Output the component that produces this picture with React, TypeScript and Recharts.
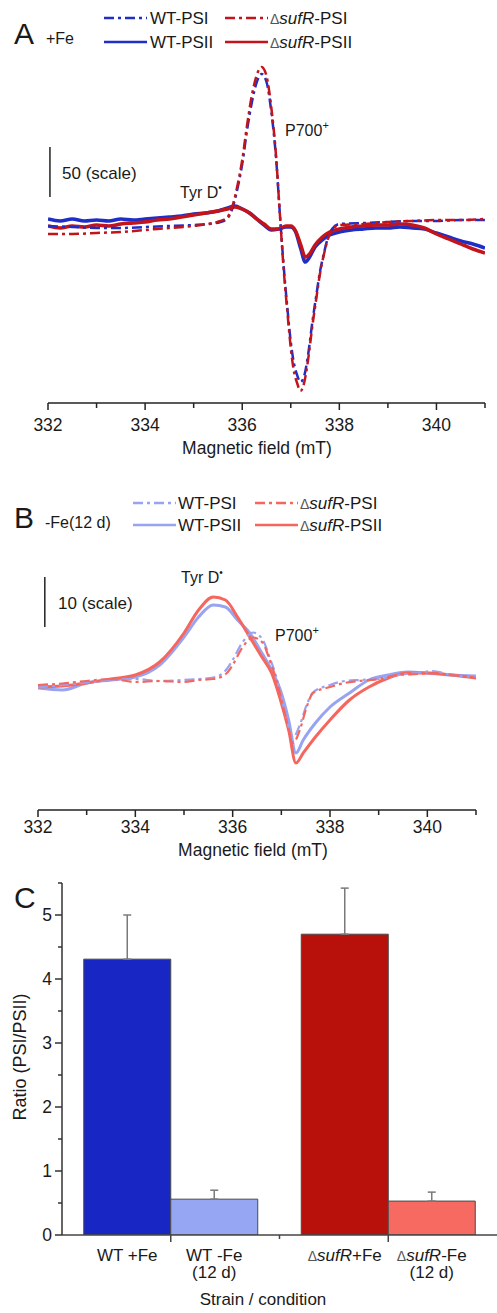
import React from 'react';
import { LineChart, Line, XAxis, YAxis, ReferenceLine, BarChart, Bar, ErrorBar, Cell } from 'recharts';

const FONT = '"Liberation Sans", Arial, Helvetica, sans-serif';
const INK = '#1a1a1a';

// ---------- Panel A (+Fe) : EPR signal, 1 unit per scale step ----------
const A_PSI_FIELD = [332, 332.5, 333, 333.5, 334, 334.5, 335, 335.3, 335.55, 335.7,
  335.8, 335.9, 336.0, 336.1, 336.2, 336.3, 336.4, 336.5, 336.6, 336.7,
  336.77, 336.85, 336.93, 337.0, 337.06, 337.13, 337.2, 337.27, 337.35, 337.45,
  337.53, 337.6, 337.68, 337.75, 337.85, 338.0, 338.5, 339, 339.5, 340,
  340.5, 341];
const A_WT_PSI = [-4, -5, -6, -6, -5, -4, -3, -2, 0, 4,
  14, 33, 58, 92, 120, 140, 148, 140, 110, 62,
  12, -42, -86, -120, -140, -153, -160, -155, -135, -98,
  -72, -50, -32, -18, -7, -2, -1, 0, 1, 1,
  2, 2];
const A_SUFR_PSI = [-12, -12, -11, -10, -8, -6, -4, -2, 1, 5,
  16, 36, 62, 97, 127, 147, 155, 146, 114, 64,
  12, -45, -90, -126, -148, -161, -169, -162, -140, -102,
  -75, -52, -33, -19, -8, -3, -2, 0, 1, 2,
  2, 3];
const A_PSII_FIELD = [332, 332.25, 332.5, 332.75, 333, 333.25, 333.5, 333.75, 334, 334.25, 334.5, 334.75,
  335, 335.25, 335.5, 335.7, 335.85, 336.0, 336.15, 336.3, 336.45, 336.6,
  336.75, 336.9, 337.0, 337.1, 337.2, 337.3, 337.4, 337.5, 337.65, 337.8,
  338.0, 338.25, 338.5, 338.75, 339.0, 339.25, 339.5, 339.75, 340.0, 340.25,
  340.5, 340.75, 341];
const A_WT_PSII = [3, 1, 3, 1, 2, 1, 3, 2, 3, 4, 5, 6,
  8, 9, 11, 14, 16, 13, 9, 3, -3, -8,
  -7, -5, -5, -10, -26, -40, -34, -25, -18, -13,
  -10, -8, -7, -6, -6, -5, -6, -7, -11, -15,
  -19, -22, -26];
const A_SUFR_PSII = [-4, -6, -4, -5, -3, -4, -2, -1, 0, 2, 3, 5,
  7, 9, 11, 13, 15, 13, 9, 3, -2, -7,
  -7, -4, -4, -9, -22, -35, -31, -23, -15, -10,
  -7, -5, -4, -3, -3, -2, -3, -6, -12, -17,
  -22, -27, -31];

// ---------- Panel B (-Fe, 12 d) ----------
const B_PSI_FIELD = [332, 332.5, 333, 333.5, 334, 334.5, 335, 335.3, 335.6, 335.88,
  336.0, 336.2, 336.42, 336.62, 336.76, 336.9, 337.04, 337.17, 337.24, 337.38,
  337.52, 337.65, 338.0, 338.3, 338.6, 339.0, 339.4, 339.8, 340.1, 340.5,
  341];
const B_WT_PSI = [-0.5, 0, 0.5, 1, 1.2, 0.8, 1, 1.2, 1.5, 3.2,
  5, 8.5, 10.5, 9, 5.5, 1.5, -4, -9, -10.5, -8,
  -4, -1.5, 0, 0.8, 1, 1.2, 2, 2.4, 2.8, 2,
  1.6];
const B_SUFR_PSI = [0, 0.3, 0.8, 1.2, 0.6, 0.8, 0.6, 1, 1.2, 2.4,
  4, 7.5, 9.5, 8.4, 5, 1, -4.4, -9.6, -11.6, -9,
  -4.4, -1.6, -0.4, 0.4, 0.8, 1.2, 2, 2.2, 2.4, 2,
  1.4];
const B_PSII_FIELD = [332, 332.5, 333, 333.5, 334, 334.5, 335, 335.3, 335.6, 335.85,
  336.1, 336.35, 336.6, 336.8, 337.0, 337.15, 337.3, 337.45, 337.7, 338.0,
  338.4, 338.8, 339.2, 339.6, 340.0, 340.5, 341];
const B_WT_PSII = [-0.6, -1, 0.4, 1, 1.6, 4, 9.6, 13.6, 16, 15.6,
  13, 10.4, 6.4, 3, -1.6, -7, -13.6, -11, -7.6, -4.4,
  -1.6, 1, 2, 2.6, 2.4, 2, 1.8];
const B_SUFR_PSII = [-0.4, -0.2, 0.4, 1.2, 2, 4.6, 10.4, 15, 17.6, 17,
  13.6, 9.6, 5.6, 2.4, -3.6, -9, -15.6, -13.6, -10.4, -7,
  -3, -0.4, 1.4, 2.4, 2.4, 2, 1.4];

const FIELD_TICKS = [332, 333, 334, 335, 336, 337, 338, 339, 340, 341];

// ---------- Panel C ----------
const CONDITIONS = ['WT', 'ΔsufR'];
const RATIO_PLUS_FE = [4.31, 4.70];
const RATIO_MINUS_FE = [0.56, 0.53];
const ERR_PLUS_FE = [0.69, 0.72];
const ERR_MINUS_FE = [0.14, 0.14];
const RATIO_TICKS = [0, 0.5, 1, 1.5, 2, 2.5, 3, 3.5, 4, 4.5, 5, 5.5];
const COND_LABELS = [
  [['WT +Fe'], ['WT -Fe', '(12 d)']],
  [['ΔsufR+Fe'], ['ΔsufR-Fe', '(12 d)']],
];

// ---------- colours / styles ----------
const BLUE = '#1f2ec6';
const RED = '#c2141a';
const LBLUE = '#98a4f2';
const SALMON = '#f5675e';
const PSI_DASH = '10 4 3 4';

const A_SERIES = [
  { name: 'WT-PSII', color: BLUE, dash: undefined as string | undefined, xs: A_PSII_FIELD, ys: A_WT_PSII, w: 3.5 },
  { name: 'ΔsufR-PSII', color: RED, dash: undefined as string | undefined, xs: A_PSII_FIELD, ys: A_SUFR_PSII, w: 3.5 },
  { name: 'WT-PSI', color: BLUE, dash: PSI_DASH, xs: A_PSI_FIELD, ys: A_WT_PSI, w: 2.5 },
  { name: 'ΔsufR-PSI', color: RED, dash: PSI_DASH, xs: A_PSI_FIELD, ys: A_SUFR_PSI, w: 2.5 },
];
const B_SERIES = [
  { name: 'WT-PSII', color: LBLUE, dash: undefined as string | undefined, xs: B_PSII_FIELD, ys: B_WT_PSII, w: 3 },
  { name: 'ΔsufR-PSII', color: SALMON, dash: undefined as string | undefined, xs: B_PSII_FIELD, ys: B_SUFR_PSII, w: 3 },
  { name: 'WT-PSI', color: LBLUE, dash: PSI_DASH, xs: B_PSI_FIELD, ys: B_WT_PSI, w: 2.2 },
  { name: 'ΔsufR-PSI', color: SALMON, dash: PSI_DASH, xs: B_PSI_FIELD, ys: B_SUFR_PSI, w: 2.2 },
];

const toPoints = (xs: number[], ys: number[]) => xs.map((x, i) => ({ x, y: ys[i] }));

const C_DATA = CONDITIONS.map((c, i) => ({
  cond: c,
  plus: RATIO_PLUS_FE[i],
  minus: RATIO_MINUS_FE[i],
  plusErr: [0, ERR_PLUS_FE[i]],
  minusErr: [0, ERR_MINUS_FE[i]],
}));
const PLUS_COLORS = ['#1826c4', '#b8110b'];
const MINUS_COLORS = ['#97a6f3', '#f66a62'];

const W = 497;
const C_YAXIS_W = 62;
const C_BAND = (W - C_YAXIS_W) / CONDITIONS.length;
const C_BAR_OFFSET = 0.2 * C_BAND;

// Name renderer with italic gene name
const NameText = ({ text, size }: { text: string; size: number }) => {
  if (text.startsWith('Δ')) {
    const rest = text.slice(1);
    const idx = rest.indexOf('sufR');
    const after = rest.slice(idx + 4);
    return (
      <>
        <tspan fontSize={size - 3} fill="#555">Δ</tspan>
        <tspan fontStyle="italic">sufR</tspan>
        <tspan>{after}</tspan>
      </>
    );
  }
  return <>{text}</>;
};

const makeFieldTick = (labelDy: number) => (props: any) => {
  const { x, y, payload } = props;
  const v = payload.value as number;
  const major = v % 2 === 0;
  return (
    <g>
      <line x1={x} y1={y} x2={x} y2={y + (major ? 7 : 5)} stroke="#222" strokeWidth={1.5} />
      {major && (
        <text x={x} y={y + labelDy} textAnchor="middle" fontSize={17.5} fontFamily={FONT} fill={INK}>
          {v}
        </text>
      )}
    </g>
  );
};

const RatioTick = (props: any) => {
  const { x, y, payload } = props;
  const v = payload.value as number;
  const major = Number.isInteger(v);
  return (
    <g>
      <line x1={x - (major ? 7 : 4)} y1={y} x2={x} y2={y} stroke="#333" strokeWidth={1.5} />
      {major && (
        <text x={x - 10} y={y + 6} textAnchor="end" fontSize={17.5} fontFamily={FONT} fill={INK}>
          {v}
        </text>
      )}
    </g>
  );
};

const CondTick = (props: any) => {
  const { x, y, index } = props;
  const labels = COND_LABELS[index] || [];
  return (
    <g>
      <line x1={x} y1={y} x2={x} y2={y + 7} stroke="#444" strokeWidth={1.5} />
      {index === 0 && (
        <line x1={x + C_BAND / 2} y1={y} x2={x + C_BAND / 2} y2={y + 4} stroke="#444" strokeWidth={1.5} />
      )}
      {labels.map((lines: string[], j: number) => {
        const cx = x + (j === 0 ? -C_BAR_OFFSET : C_BAR_OFFSET);
        return lines.map((t, k) => (
          <text key={`${j}-${k}`} x={cx} y={y + 26 + k * 17} textAnchor="middle" fontSize={17} fontFamily={FONT} fill={INK}>
            <NameText text={t} size={17} />
          </text>
        ));
      })}
    </g>
  );
};

type Series = typeof A_SERIES;

const LegendBlock = ({ series, x1, x2, rows }: { series: Series; x1: number[]; x2: number[]; rows: number[] }) => (
  <g>
    {series.map((s) => {
      const col = s.name.startsWith('WT') ? 0 : 1;
      const row = s.name.endsWith('PSII') ? 1 : 0;
      const y = rows[row];
      return (
        <g key={s.name}>
          <line x1={x1[col]} x2={x1[col] + 43} y1={y} y2={y} stroke={s.color} strokeWidth={2.5} strokeDasharray={s.dash} />
          <text x={x2[col]} y={y + 6} fontSize={17} fontFamily={FONT} fill={INK}>
            <NameText text={s.name} size={17} />
          </text>
        </g>
      );
    })}
  </g>
);

const SpectrumChart = ({ series, height, margin, yDomain, axisH, labelDy, scaleBar }: any) => (
  <LineChart width={W} height={height} margin={margin}>
    <XAxis
      type="number"
      dataKey="x"
      domain={[332, 341]}
      ticks={FIELD_TICKS}
      interval={0}
      allowDataOverflow
      height={axisH}
      tickLine={false}
      tickSize={0}
      tickMargin={0}
      axisLine={{ stroke: '#222', strokeWidth: 1.5 }}
      tick={makeFieldTick(labelDy)}
    />
    <YAxis type="number" domain={yDomain} hide width={0} allowDataOverflow />
    <ReferenceLine segment={scaleBar} stroke="#222" strokeWidth={1.5} />
    {series.map((s: any) => (
      <Line
        key={s.name}
        data={toPoints(s.xs, s.ys)}
        dataKey="y"
        type="monotone"
        dot={false}
        stroke={s.color}
        strokeWidth={s.w}
        strokeDasharray={s.dash}
        isAnimationActive={false}
      />
    ))}
  </LineChart>
);

const App = () => {
  return (
    <div style={{ position: 'absolute', left: 0, top: 0, width: W, height: 1313, background: '#fff', fontFamily: FONT }}>
      <div style={{ position: 'absolute', left: 0, top: 0 }}>
        <SpectrumChart
          series={A_SERIES}
          height={460}
          margin={{ top: 55, right: 12, bottom: 0, left: 48 }}
          yDomain={[-181, 167]}
          axisH={57}
          labelDy={28}
          scaleBar={[{ x: 332.04, y: 25 }, { x: 332.04, y: 75 }]}
        />
      </div>
      <div style={{ position: 'absolute', left: 0, top: 460 }}>
        <SpectrumChart
          series={B_SERIES}
          height={400}
          margin={{ top: 100, right: 21, bottom: 0, left: 38 }}
          yDomain={[-25, 25]}
          axisH={50}
          labelDy={23}
          scaleBar={[{ x: 332.14, y: 11.6 }, { x: 332.14, y: 21.6 }]}
        />
      </div>
      <div style={{ position: 'absolute', left: 0, top: 860 }}>
        <BarChart
          width={W}
          height={453}
          data={C_DATA}
          margin={{ top: 23, right: 0, bottom: 0, left: 0 }}
          barCategoryGap="10%"
          barGap={0}
        >
          <XAxis
            dataKey="cond"
            interval={0}
            height={78}
            tickLine={false}
            tickSize={0}
            tickMargin={0}
            axisLine={{ stroke: '#444', strokeWidth: 1.5 }}
            tick={CondTick}
          />
          <YAxis
            type="number"
            domain={[0, 5.5]}
            ticks={RATIO_TICKS}
            interval={0}
            allowDataOverflow
            width={C_YAXIS_W}
            tickLine={false}
            tickSize={0}
            tickMargin={0}
            axisLine={{ stroke: '#333', strokeWidth: 1.5 }}
            tick={RatioTick}
          />
          <Bar dataKey="plus" isAnimationActive={false} stroke="#4a4a4a" strokeWidth={1}>
            {C_DATA.map((d, i) => (
              <Cell key={d.cond} fill={PLUS_COLORS[i]} />
            ))}
            <ErrorBar dataKey="plusErr" direction="y" width={4} stroke="#7a7a7a" strokeWidth={1.5} />
          </Bar>
          <Bar dataKey="minus" isAnimationActive={false} stroke="#4a4a4a" strokeWidth={1}>
            {C_DATA.map((d, i) => (
              <Cell key={d.cond} fill={MINUS_COLORS[i]} />
            ))}
            <ErrorBar dataKey="minusErr" direction="y" width={4} stroke="#7a7a7a" strokeWidth={1.5} />
          </Bar>
        </BarChart>
      </div>

      <svg width={W} height={1313} style={{ position: 'absolute', left: 0, top: 0, pointerEvents: 'none' }}>
        <g fontFamily={FONT} fill={INK}>
          {/* Panel A */}
          <text x={14} y={44} fontSize={30}>A</text>
          <text x={46} y={44} fontSize={16}>+Fe</text>
          <LegendBlock series={A_SERIES} x1={[104, 225]} x2={[150, 270]} rows={[18, 42]} />
          <text x={62} y={179} fontSize={17}>50 (scale)</text>
          <text x={180} y={198} fontSize={16}>
            Tyr D<tspan fontSize={10} dy={-7}>•</tspan>
          </text>
          <text x={285} y={136} fontSize={16}>
            P700<tspan fontSize={11} dy={-7}>+</tspan>
          </text>
          <text x={257} y={454} fontSize={17.5} textAnchor="middle">Magnetic field (mT)</text>

          {/* Panel B */}
          <text x={14} y={528} fontSize={30}>B</text>
          <text x={45} y={528} fontSize={16}>-Fe(12 d)</text>
          <LegendBlock series={B_SERIES} x1={[133, 255]} x2={[178, 300]} rows={[503, 525]} />
          <text x={58} y={609} fontSize={17}>10 (scale)</text>
          <text x={181} y={583} fontSize={16}>
            Tyr D<tspan fontSize={10} dy={-7}>•</tspan>
          </text>
          <text x={275} y={641} fontSize={16}>
            P700<tspan fontSize={11} dy={-7}>+</tspan>
          </text>
          <text x={253} y={856} fontSize={17.5} textAnchor="middle">Magnetic field (mT)</text>

          {/* Panel C */}
          <text x={14} y={908} fontSize={30}>C</text>
          <text x={26} y={1057} fontSize={18} textAnchor="middle" transform="rotate(-90 26 1057)">
            Ratio (PSI/PSII)
          </text>
          <text x={263} y={1305} fontSize={17} textAnchor="middle">Strain / condition</text>
        </g>
      </svg>
    </div>
  );
};

export default App;
